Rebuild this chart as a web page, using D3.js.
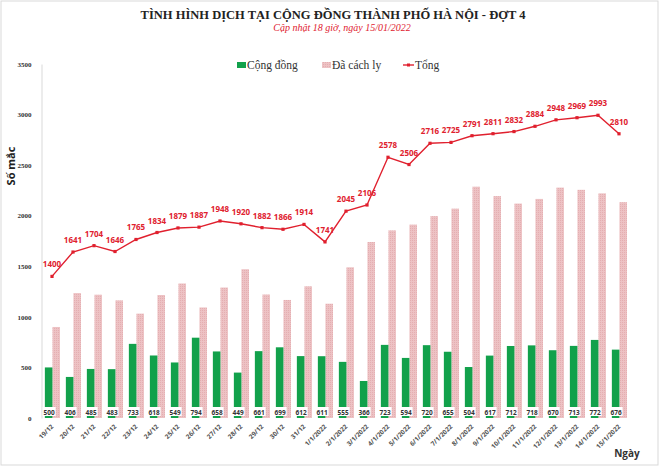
<!DOCTYPE html>
<html>
<head>
<meta charset="utf-8">
<script src="https://cdnjs.cloudflare.com/ajax/libs/d3/7.8.5/d3.min.js"></script>
<style>
  body { margin: 0; background: #fff; }
</style>
</head>
<body>
<svg width="660" height="467"></svg>
<script>
const width = 660;
const height = 467;

// data
const days = ["19/12", "20/12", "21/12", "22/12", "23/12", "24/12", "25/12", "26/12", "27/12",
    "28/12", "29/12", "30/12", "31/12", "1/1/2022", "2/1/2022", "3/1/2022", "4/1/2022", "5/1/2022",
    "6/1/2022", "7/1/2022", "8/1/2022", "9/1/2022", "10/1/2022", "11/1/2022", "12/1/2022",
    "13/1/2022", "14/1/2022", "15/1/2022"];
const congDong = [500, 406, 485, 483, 733, 618, 549, 794, 658, 449, 661, 699, 612, 611,
    555, 366, 723, 594, 720, 655, 504, 617, 712, 718, 670, 713, 772, 676];
const daCachLy = [900, 1235, 1219, 1163, 1032, 1216, 1330, 1093, 1290, 1471, 1221, 1167, 1302, 1130,
    1490, 1740, 1855, 1912, 1996, 2070, 2287, 2194, 2120, 2166, 2278, 2256, 2221, 2134];
const tong = [1400, 1641, 1704, 1646, 1765, 1834, 1879, 1887, 1948, 1920, 1882, 1866, 1914, 1741,
    2045, 2106, 2578, 2506, 2716, 2725, 2791, 2811, 2832, 2884, 2948, 2969, 2993, 2810];
const yTicks = [0, 500, 1000, 1500, 2000, 2500, 3000, 3500];

const green = "#12a14b";
const red = "#e0202e";
const serif = "'Liberation Serif', 'DejaVu Serif', serif";
const sans = "'Open Sans', 'Liberation Sans', sans-serif";

const svg = d3.select("svg");

// light dotted fill for the quarantined bars
const defs = svg.append("defs");
const pat = defs.append("pattern")
    .attr("id", "dots")
    .attr("width", 2)
    .attr("height", 2)
    .attr("patternUnits", "userSpaceOnUse");
pat.append("rect").attr("width", 2).attr("height", 2).attr("fill", "#edc2c4");
pat.append("rect").attr("width", 1).attr("height", 1).attr("fill", "#e4aeb1");

// outer frame
svg.append("rect")
    .attr("x", 1).attr("y", 1)
    .attr("width", width - 3).attr("height", height - 3)
    .attr("fill", "none")
    .attr("stroke", "#d9d9d9");

const x = d3.scaleBand()
    .domain(days)
    .range([41.5, 629.5])
    .padding(0);

const y = d3.scaleLinear()
    .domain([0, 3500])
    .range([418, 64]);

const bw = x.bandwidth();
const barW = bw * 0.36;

// titles
svg.append("text")
    .attr("x", 333).attr("y", 19)
    .attr("text-anchor", "middle")
    .style("font-family", serif)
    .style("font-weight", "bold")
    .style("font-size", "12.5px")
    .attr("fill", "#222")
    .text("TÌNH HÌNH DỊCH TẠI CỘNG ĐỒNG THÀNH PHỐ HÀ NỘI - ĐỢT 4");

svg.append("text")
    .attr("x", 342).attr("y", 31)
    .attr("text-anchor", "middle")
    .style("font-family", serif)
    .style("font-style", "italic")
    .style("font-size", "10px")
    .attr("fill", "#e0202e")
    .text("Cập nhật 18 giờ, ngày 15/01/2022");

// y axis
const yAxis = svg.append("g")
    .attr("transform", "translate(41.5,0)")
    .call(d3.axisLeft(y).tickValues(yTicks).tickSize(0).tickPadding(10).tickFormat(d3.format("d")));
yAxis.select(".domain").attr("stroke", "#d9d9d9");
yAxis.selectAll("text")
    .style("font-family", serif)
    .style("font-weight", "bold")
    .style("font-size", "7px")
    .attr("fill", "#333");

svg.append("text")
    .attr("transform", "translate(15,166) rotate(-90)")
    .attr("text-anchor", "middle")
    .style("font-family", sans)
    .style("font-weight", "bold")
    .style("font-size", "11px")
    .attr("fill", "#222")
    .text("Số mắc");

// bars
svg.selectAll(".cachly")
    .data(days)
    .enter()
    .append("rect")
    .attr("class", "cachly")
    .attr("x", d => x(d) + bw * 0.16 + barW)
    .attr("y", (d, i) => y(daCachLy[i]))
    .attr("width", barW)
    .attr("height", (d, i) => y(0) - y(daCachLy[i]))
    .attr("fill", "url(#dots)");

svg.selectAll(".congdong")
    .data(days)
    .enter()
    .append("rect")
    .attr("class", "congdong")
    .attr("x", d => x(d) + bw * 0.16)
    .attr("y", (d, i) => y(congDong[i]))
    .attr("width", barW)
    .attr("height", (d, i) => y(0) - y(congDong[i]))
    .attr("fill", green);

// labels of community cases
const lab = svg.selectAll(".cdlabel")
    .data(days)
    .enter()
    .append("g")
    .attr("class", "cdlabel")
    .attr("transform", d => `translate(${x(d) + bw * 0.16 + barW / 2 + 0.5},412)`);
lab.append("rect")
    .attr("x", -6.5).attr("y", -5)
    .attr("width", 13).attr("height", 9)
    .attr("fill", "#fff");
lab.append("text")
    .attr("y", 2.5)
    .attr("text-anchor", "middle")
    .style("font-family", sans)
    .style("font-weight", "bold")
    .style("font-size", "6.5px")
    .attr("fill", "#333")
    .text((d, i) => congDong[i]);

// x labels
svg.selectAll(".xlabel")
    .data(days)
    .enter()
    .append("text")
    .attr("class", "xlabel")
    .attr("transform", d => `translate(${x(d) + bw / 2 + 2},427) rotate(-45)`)
    .attr("text-anchor", "end")
    .style("font-family", sans)
    .style("font-weight", "bold")
    .style("font-size", "6.5px")
    .attr("fill", "#555")
    .text(d => d);

svg.append("text")
    .attr("x", 627).attr("y", 457)
    .attr("text-anchor", "middle")
    .style("font-family", sans)
    .style("font-weight", "bold")
    .style("font-size", "10px")
    .attr("fill", "#333")
    .text("Ngày");

// total line
const line = d3.line()
    .x(d => x(d) + bw / 2)
    .y((d, i) => y(tong[i]));

svg.append("path")
    .datum(days)
    .attr("d", line)
    .attr("fill", "none")
    .attr("stroke", red)
    .attr("stroke-width", 1.4);

svg.selectAll(".pt")
    .data(days)
    .enter()
    .append("rect")
    .attr("class", "pt")
    .attr("x", d => x(d) + bw / 2 - 1.6)
    .attr("y", (d, i) => y(tong[i]) - 1.6)
    .attr("width", 3.2)
    .attr("height", 3.2)
    .attr("fill", red);

svg.selectAll(".tlabel")
    .data(days)
    .enter()
    .append("text")
    .attr("class", "tlabel")
    .attr("x", d => x(d) + bw / 2)
    .attr("y", (d, i) => y(tong[i]) - 9)
    .attr("text-anchor", "middle")
    .style("font-family", sans)
    .style("font-weight", "bold")
    .style("font-size", "8px")
    .attr("fill", red)
    .text((d, i) => tong[i]);

// legend
const legend = svg.append("g").attr("transform", "translate(237,66)");
legend.append("rect").attr("x", 0).attr("y", -4).attr("width", 9).attr("height", 6).attr("fill", green);
legend.append("text").attr("x", 10).attr("y", 3).text("Cộng đồng");
legend.append("rect").attr("x", 85).attr("y", -4).attr("width", 9).attr("height", 6).attr("fill", "url(#dots)");
legend.append("text").attr("x", 95).attr("y", 3).text("Đã cách ly");
legend.append("line").attr("x1", 166).attr("x2", 177).attr("y1", -1).attr("y2", -1)
    .attr("stroke", red).attr("stroke-width", 1.4);
legend.append("rect").attr("x", 170).attr("y", -2.5).attr("width", 3).attr("height", 3).attr("fill", red);
legend.append("text").attr("x", 178).attr("y", 3).text("Tổng");
legend.selectAll("text")
    .style("font-family", serif)
    .style("font-size", "11.5px")
    .attr("fill", "#333");
</script>
</body>
</html>
